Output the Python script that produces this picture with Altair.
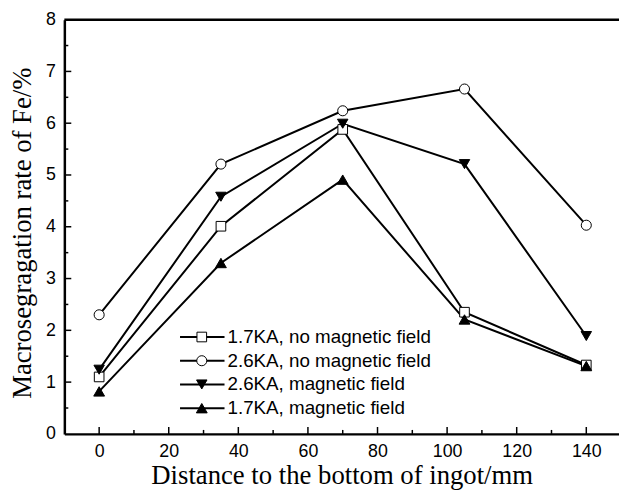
import altair as alt
import pandas as pd

# ---- data ----
distance = [0, 35, 70, 105, 140]
series_names = [
    "1.7KA, no magnetic field",
    "2.6KA, no magnetic field",
    "2.6KA, magnetic field",
    "1.7KA, magnetic field",
]
val_17_nofield = [1.10, 4.01, 5.88, 2.35, 1.33]
val_26_nofield = [2.30, 5.21, 6.24, 6.66, 4.03]
val_26_field = [1.24, 4.58, 5.99, 5.21, 1.89]
val_17_field = [0.82, 3.30, 4.91, 2.21, 1.31]

x_major = [0, 20, 40, 60, 80, 100, 120, 140]
x_minor = [10, 30, 50, 70, 90, 110, 130]
y_major = [0, 1, 2, 3, 4, 5, 6, 7, 8]
y_minor = [0.5, 1.5, 2.5, 3.5, 4.5, 5.5, 6.5, 7.5]

# ---- styling ----
W, H = 561, 419
shapes = ["square", "circle", "triangle-down", "triangle-up"]
fills = ["white", "white", "black", "black"]
sizes = [95, 120, 190, 190]

rows = []
for name, vals in zip(series_names, [val_17_nofield, val_26_nofield, val_26_field, val_17_field]):
    for d, v in zip(distance, vals):
        rows.append({"distance": d, "value": v, "series": name})
df = pd.DataFrame(rows)

xscale = alt.Scale(domain=[-10, 149.4], nice=False, zero=False)
yscale = alt.Scale(domain=[0, 8], nice=False, zero=True)

xaxis = alt.Axis(values=x_major, format="d", ticks=False, grid=False,
                 domainWidth=2.5, domainColor="black",
                 labelFont="Liberation Sans", labelFontSize=18, labelColor="black",
                 labelPadding=9,
                 title="Distance to the bottom of ingot/mm",
                 titleFont="Liberation Serif", titleFontSize=27,
                 titleFontWeight="normal", titleColor="black",
                 titleBaseline="alphabetic", titleY=50)
yaxis = alt.Axis(values=y_major, format="d", ticks=False, grid=False,
                 domainWidth=2.5, domainColor="black",
                 labelFont="Liberation Sans", labelFontSize=18, labelColor="black",
                 labelPadding=9,
                 title="Macrosegragation rate of Fe/%",
                 titleFont="Liberation Serif", titleFontSize=27,
                 titleFontWeight="normal", titleColor="black",
                 titleBaseline="alphabetic", titleX=-34, titleY=H / 2 + 6)


def xenc(field):
    return alt.X(f"{field}:Q", scale=xscale, axis=xaxis)


def yenc(field):
    return alt.Y(f"{field}:Q", scale=yscale, axis=yaxis)


shape_enc = alt.Shape("series:N", scale=alt.Scale(domain=series_names, range=shapes), legend=None)
fill_enc = alt.Fill("series:N", scale=alt.Scale(domain=series_names, range=fills), legend=None)
size_enc = alt.Size("series:N", scale=alt.Scale(domain=series_names, range=sizes), legend=None)

base = alt.Chart(df)
lines = base.mark_line(color="black", strokeWidth=2).encode(
    x=xenc("distance"), y=yenc("value"), detail="series:N")
points = base.mark_point(filled=True, stroke="black", strokeWidth=1, opacity=1).encode(
    x=xenc("distance"), y=yenc("value"), shape=shape_enc, fill=fill_enc, size=size_enc)

xmaj = alt.Chart(pd.DataFrame({"t": x_major})).mark_rule(color="black", strokeWidth=1.5).encode(
    x=xenc("t"), y=alt.value(H), y2=alt.value(H - 7))
xmin = alt.Chart(pd.DataFrame({"t": x_minor})).mark_rule(color="black", strokeWidth=1.5).encode(
    x=xenc("t"), y=alt.value(H), y2=alt.value(H - 4))
ymaj = alt.Chart(pd.DataFrame({"t": y_major[1:-1]})).mark_rule(color="black", strokeWidth=1.5).encode(
    y=yenc("t"), x=alt.value(0), x2=alt.value(7))
ymin = alt.Chart(pd.DataFrame({"t": y_minor})).mark_rule(color="black", strokeWidth=1.5).encode(
    y=yenc("t"), x=alt.value(0), x2=alt.value(4))
top = alt.Chart(pd.DataFrame({"t": [0]})).mark_rule(color="black", strokeWidth=2.5).encode(
    x=alt.value(0), x2=alt.value(W), y=alt.value(0))

main = alt.layer(lines, xmaj, xmin, ymaj, ymin, top, points)

# ---- in-plot legend (line + marker + label) ----
leg_df = pd.DataFrame({"series": series_names, "row": list(range(len(series_names)))})
leg_y = alt.Y("row:Q", scale=alt.Scale(domain=[0, 3], range=[321, 393], nice=False, zero=False),
              axis=None)
leg_base = alt.Chart(leg_df)
leg_rule = leg_base.mark_rule(color="black", strokeWidth=2).encode(
    y=leg_y, x=alt.value(117), x2=alt.value(162))
leg_pt = leg_base.mark_point(filled=True, stroke="black", strokeWidth=1, opacity=1).encode(
    y=leg_y, x=alt.value(139), shape=shape_enc, fill=fill_enc, size=size_enc)
leg_txt = leg_base.mark_text(align="left", baseline="middle", font="Liberation Sans",
                             fontSize=19, color="black").encode(
    y=leg_y, x=alt.value(165), text="series:N")
legend = alt.layer(leg_rule, leg_pt, leg_txt)

chart = alt.layer(main, legend).resolve_scale(y="independent").properties(
    width=W, height=H,
    autosize=alt.AutoSizeParams(type="none"),
    padding={"left": 57, "top": 9, "right": 0, "bottom": 56},
).configure_view(strokeWidth=0).configure(background="white")

chart.save("out.html", embed_options={"renderer": "svg", "actions": False})
